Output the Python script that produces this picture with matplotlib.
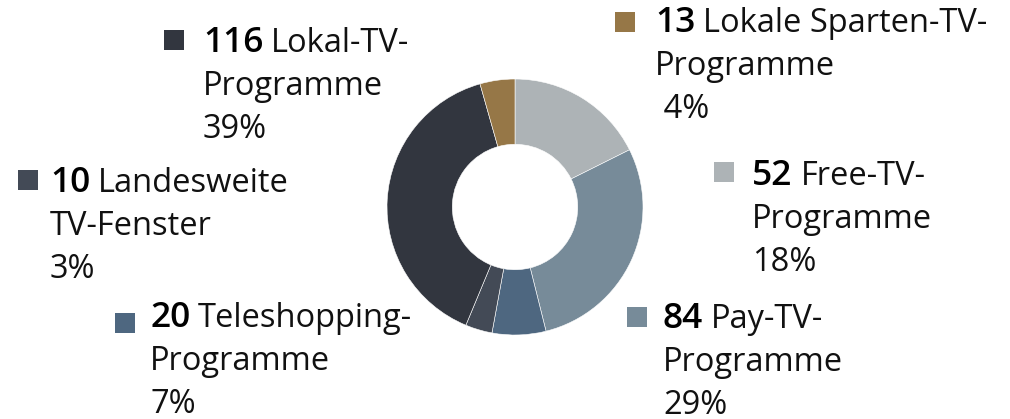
import matplotlib
matplotlib.use("Agg")
import matplotlib.pyplot as plt
from matplotlib.patches import Rectangle

plt.rcParams['font.family'] = ['Open Sans', 'DejaVu Sans']

# Data (clockwise from 12 o'clock)
categories = ["Free-TV-\nProgramme", "Pay-TV-\nProgramme", "Teleshopping-\nProgramme",
              "Landesweite\nTV-Fenster", "Lokal-TV-\nProgramme", "Lokale Sparten-TV-\nProgramme"]
counts = [52, 84, 20, 10, 116, 13]
pct_labels = ["18%", "29%", "7%", "3%", "39%", " 4%"]
colors = ["#adb3b6", "#778b99", "#4e6780", "#434a56", "#32363f", "#967747"]

W, H = 1010, 419
fig = plt.figure(figsize=(W / 100, H / 100), dpi=100)

# overlay axes in pixel coords
ax = fig.add_axes([0, 0, 1, 1])
ax.set_xlim(0, W)
ax.set_ylim(H, 0)
ax.axis("off")

# donut
cx, cy, r = 515, 207, 128
pax = fig.add_axes([(cx - r) / W, (H - cy - r) / H, 2 * r / W, 2 * r / H])
pax.pie(counts, colors=colors, startangle=90, counterclock=False, radius=1,
        wedgeprops=dict(width=0.51, edgecolor="white", linewidth=0.4))
pax.set_xlim(-1, 1)
pax.set_ylim(-1, 1)
pax.set_aspect("auto")
pax.axis("off")

# label layout: (square x, square y, text x, first baseline y)
layout = [
    (714, 162, 752, 185),
    (627, 307, 663, 328),
    (115, 313, 150, 327),
    (18, 170, 50, 192),
    (164, 30, 203, 52),
    (615, 12, 655, 32),
]
fs = 23.5
fs_num = 25.5
lh = 43
renderer = fig.canvas.get_renderer()
for i, (sx, sy, tx, by) in enumerate(layout):
    ax.add_patch(Rectangle((sx, sy), 20, 20, facecolor=colors[i], edgecolor="none"))
    lines = categories[i].split("\n")
    t = ax.text(tx, by, str(counts[i]), fontsize=fs_num, fontweight="semibold",
                va="baseline", ha="left", color="black")
    bb = t.get_window_extent(renderer=renderer)
    ax.text(tx + bb.width + 8, by, lines[0], fontsize=fs, fontweight="normal",
            va="baseline", ha="left", color="#111111")
    ax.text(tx, by + lh, lines[1], fontsize=fs, fontweight="normal", va="baseline",
            ha="left", color="#111111")
    ax.text(tx, by + 2 * lh, pct_labels[i], fontsize=fs, fontweight="normal",
            va="baseline", ha="left", color="#111111")

fig.savefig("out.png", dpi=100)
